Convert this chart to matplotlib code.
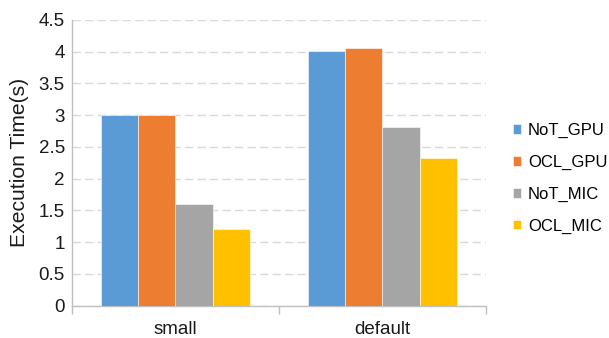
import matplotlib
matplotlib.use("Agg")
import matplotlib.pyplot as plt
import numpy as np

plt.rcParams['font.family'] = ['Liberation Sans', 'DejaVu Sans']

categories = ["small", "default"]
series_names = ["NoT_GPU", "OCL_GPU", "NoT_MIC", "OCL_MIC"]
not_gpu = [3.00, 4.01]
ocl_gpu = [3.00, 4.06]
not_mic = [1.60, 2.81]
ocl_mic = [1.21, 2.33]
y_ticks = [0, 0.5, 1, 1.5, 2, 2.5, 3, 3.5, 4, 4.5]
y_tick_labels = ["0", "0.5", "1", "1.5", "2", "2.5", "3", "3.5", "4", "4.5"]

colors = ["#5B9BD5", "#ED7D31", "#A5A5A5", "#FFC000"]
series = [not_gpu, ocl_gpu, not_mic, ocl_mic]

fig = plt.figure(figsize=(6.09, 3.38), dpi=100)
ax = fig.add_axes([0.118, 0.096, 0.68, 0.845])

x = np.arange(len(categories))
width = 0.18
for i, (vals, name, c) in enumerate(zip(series, series_names, colors)):
    offs = (i - 1.5) * width
    ax.bar(x + offs, vals, width, color=c, label=name,
           edgecolor="white", linewidth=0.4, zorder=3)

ax.set_xlim(-0.5, len(categories) - 0.5)
ax.set_ylim(0, 4.5)
ax.set_yticks(y_ticks)
ax.set_yticklabels(y_tick_labels)
ax.set_xticks(x)
ax.set_xticklabels(categories)
ax.set_xticks(np.arange(-0.5, len(categories), 1.0), minor=True)

ax.tick_params(axis="y", length=0, labelsize=13.5, pad=5, colors="#1a1a1a")
ax.tick_params(axis="x", which="major", length=0, labelsize=13.5, pad=11, colors="#1a1a1a")
ax.tick_params(axis="x", which="minor", length=6, width=1, color="#BFBFBF")

ax.yaxis.grid(True, color="#D9D9D9", linestyle=(0, (6, 3)), linewidth=1, zorder=0)
for s in ["top", "right"]:
    ax.spines[s].set_visible(False)
for s in ["left", "bottom"]:
    ax.spines[s].set_color("#BFBFBF")
    ax.spines[s].set_linewidth(1)

ax.set_ylabel("Execution Time(s)", fontsize=15.2, color="#1a1a1a", labelpad=7)

ax.legend(loc="center left", bbox_to_anchor=(1.049, 0.445), frameon=False,
          fontsize=12, handlelength=0.51, handleheight=0.51, handletextpad=0.38,
          labelspacing=1.0, borderpad=0.4, borderaxespad=0)

fig.savefig("out.png", dpi=100)
